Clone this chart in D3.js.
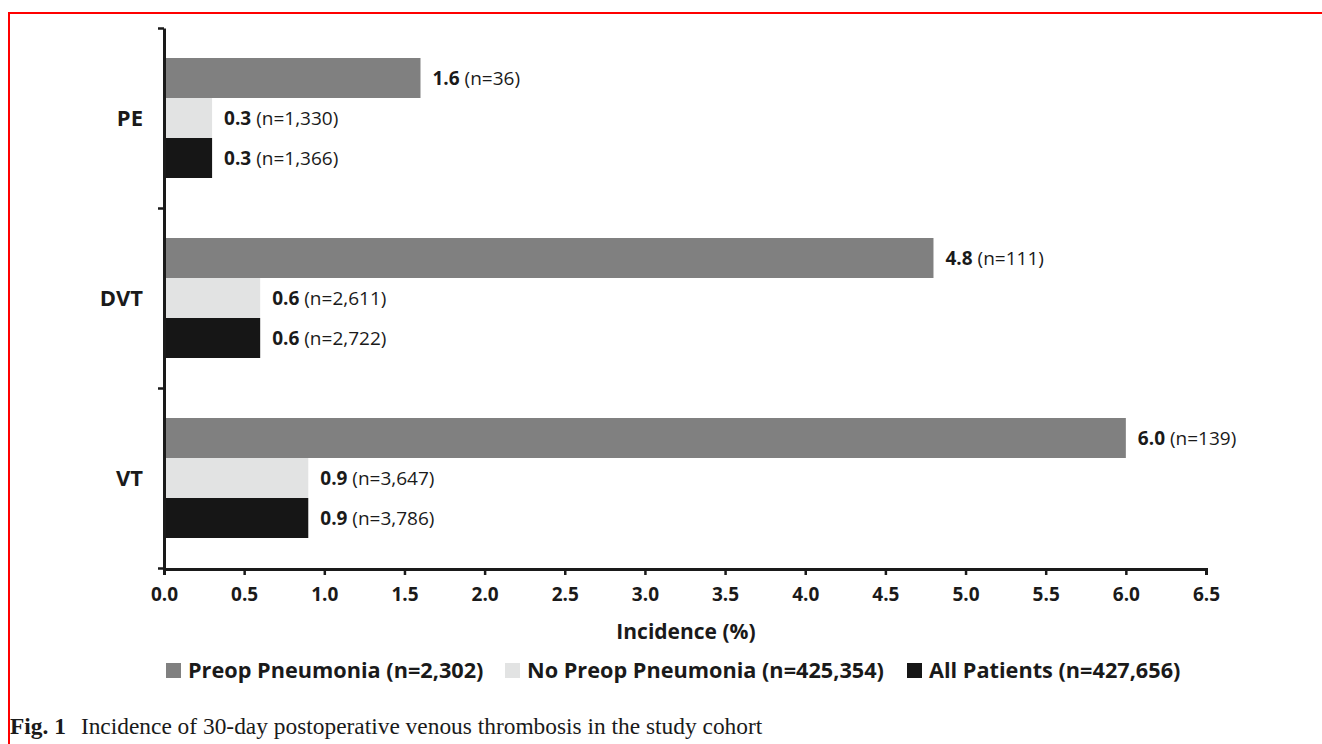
<!DOCTYPE html>
<html lang="en">
<head>
    <meta charset="UTF-8">
    <script src="https://d3js.org/d3.v7.min.js"></script>
    <style>
        body {
            margin: 0;
            background: #fff;
            overflow: hidden;
        }
        svg text {
            font-family: "Open Sans", sans-serif;
            fill: #1a1a1a;
        }
        .caption text {
            font-family: "Liberation Serif", "Times New Roman", serif;
        }
    </style>
</head>
<body>
    <svg id="chart" width="1322" height="744"></svg>

    <script>
        const categories = ["PE", "DVT", "VT"];
        const seriesNames = ["Preop Pneumonia (n=2,302)", "No Preop Pneumonia (n=425,354)", "All Patients (n=427,656)"];
        const seriesColors = ["#808080", "#e2e3e3", "#161616"];
        // incidence (%) per category, one array per series
        const preopValues = [1.6, 4.8, 6.0];
        const noPreopValues = [0.3, 0.6, 0.9];
        const allValues = [0.3, 0.6, 0.9];
        const preopCounts = ["36", "111", "139"];
        const noPreopCounts = ["1,330", "2,611", "3,647"];
        const allCounts = ["1,366", "2,722", "3,786"];
        const xTicks = [0, 0.5, 1, 1.5, 2, 2.5, 3, 3.5, 4, 4.5, 5, 5.5, 6, 6.5];

        const seriesValues = [preopValues, noPreopValues, allValues];
        const seriesCounts = [preopCounts, noPreopCounts, allCounts];

        const svg = d3.select("#chart");

        // red frame
        svg.append("path")
            .attr("d", "M9,744 V13 H1322")
            .attr("fill", "none")
            .attr("stroke", "#ff0000")
            .attr("stroke-width", 2);

        const plotLeft = 164, plotRight = 1206, plotTop = 28, plotBottom = 568;

        const x = d3.scaleLinear().domain([0, 6.5]).range([plotLeft, plotRight]);
        const y = d3.scaleBand().domain(categories).range([plotTop, plotBottom]).padding(0);
        const ySub = d3.scaleBand().domain(d3.range(seriesNames.length))
            .range([0, y.bandwidth()]).paddingInner(0).paddingOuter(0.75);
        const yEdge = d3.scaleLinear().domain([0, categories.length]).range([plotTop, plotBottom]);

        const bars = [];
        categories.forEach((c, ci) => {
            seriesValues.forEach((vals, si) => {
                bars.push({ cat: c, s: si, value: vals[ci], n: seriesCounts[si][ci] });
            });
        });

        const g = svg.append("g");

        g.selectAll(".bar")
            .data(bars)
            .enter().append("rect")
            .attr("class", "bar")
            .attr("x", x(0))
            .attr("y", d => y(d.cat) + ySub(d.s))
            .attr("width", d => x(d.value) - x(0))
            .attr("height", ySub.bandwidth())
            .attr("fill", d => seriesColors[d.s]);

        const labels = g.selectAll(".label")
            .data(bars)
            .enter().append("text")
            .attr("class", "label")
            .attr("x", d => x(d.value) + 12)
            .attr("y", d => y(d.cat) + ySub(d.s) + ySub.bandwidth() / 2)
            .attr("dy", "0.35em")
            .style("font-size", "19px");
        labels.append("tspan").style("font-weight", "bold").text(d => d.value.toFixed(1));
        labels.append("tspan").text(d => ` (n=${d.n})`);

        // x axis
        const xAxis = g.append("g")
            .attr("transform", `translate(0,${plotBottom + 1})`)
            .call(d3.axisBottom(x).tickValues(xTicks).tickFormat(d3.format(".1f")).tickSize(6).tickSizeOuter(6));
        xAxis.select(".domain").attr("stroke", "#1a1a1a").attr("stroke-width", 3);
        xAxis.selectAll(".tick line").attr("stroke", "#1a1a1a").attr("stroke-width", 2.5);
        xAxis.selectAll(".tick text")
            .attr("y", 19)
            .style("font-size", "19px")
            .style("font-weight", "bold")
            .style("font-family", "'Open Sans', sans-serif")
            .attr("fill", "#1a1a1a");

        // y axis (ticks at category boundaries)
        const yAxis = g.append("g")
            .attr("transform", `translate(${plotLeft},0)`)
            .call(d3.axisLeft(yEdge).tickValues(d3.range(categories.length + 1)).tickFormat("").tickSize(6).tickSizeOuter(0));
        yAxis.select(".domain").attr("stroke", "#1a1a1a").attr("stroke-width", 3);
        yAxis.selectAll(".tick line").attr("stroke", "#1a1a1a").attr("stroke-width", 2.5);

        g.selectAll(".cat")
            .data(categories)
            .enter().append("text")
            .attr("class", "cat")
            .attr("x", plotLeft - 21)
            .attr("y", d => y(d) + y.bandwidth() / 2)
            .attr("dy", "0.35em")
            .attr("text-anchor", "end")
            .style("font-size", "22px")
            .style("font-weight", "bold")
            .text(d => d);

        g.append("text")
            .attr("x", 686)
            .attr("y", 639)
            .attr("text-anchor", "middle")
            .style("font-size", "21px")
            .style("font-weight", "bold")
            .text("Incidence (%)");

        // legend
        const legendX = [166, 505, 907];
        const legend = g.selectAll(".legend")
            .data(seriesNames)
            .enter().append("g")
            .attr("class", "legend")
            .attr("transform", (d, i) => `translate(${legendX[i]},663)`);
        legend.append("rect")
            .attr("width", 15)
            .attr("height", 15)
            .attr("fill", (d, i) => seriesColors[i]);
        legend.append("text")
            .attr("x", 22)
            .attr("y", 7.5)
            .attr("dy", "0.35em")
            .style("font-size", "21.7px")
            .style("font-weight", "bold")
            .text(d => d);

        // caption
        const cap = svg.append("g").attr("class", "caption")
            .append("text")
            .attr("x", 10)
            .attr("y", 734)
            .style("font-size", "23.4px");
        cap.append("tspan").style("font-weight", "bold").text("Fig. 1");
        cap.append("tspan").attr("dx", 15).text("Incidence of 30-day postoperative venous thrombosis in the study cohort");
    </script>
</body>
</html>
